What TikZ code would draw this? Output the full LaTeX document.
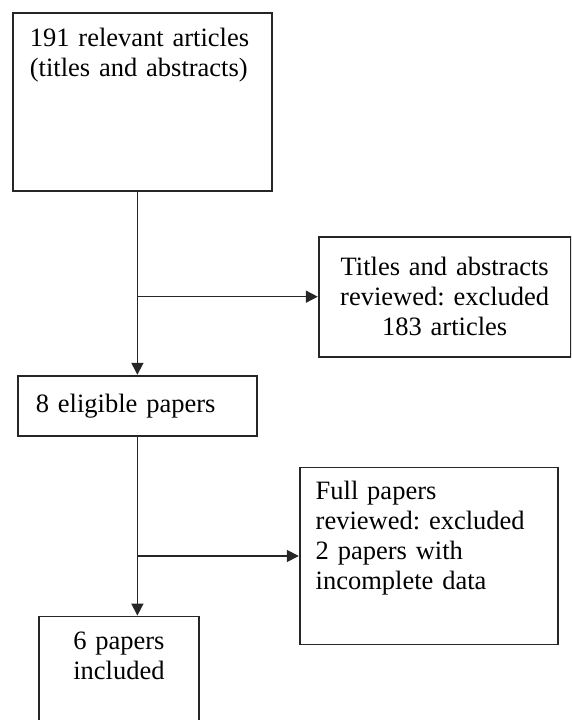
\documentclass[tikz,border=0pt]{standalone}
\usepackage{fontspec}
\setmainfont{Liberation Serif}
\usepackage{tikz}
\usetikzlibrary{arrows.meta,positioning}
\frenchspacing

\begin{document}
\begin{tikzpicture}[
  x=1pt,y=1pt,
  stage/.style={draw=black!85,line width=1.8pt,fill=white,align=left,
    font=\fontsize{26.5pt}{30pt}\selectfont},
  excl/.style={draw=black!85,line width=1.8pt,fill=white,
    font=\fontsize{26.5pt}{30pt}\selectfont},
  arrow/.style={-{Triangle[length=12pt,width=12pt]},line width=1.6pt,draw=black!85}
]
\useasboundingbox (0,0) rectangle (571,720);
\clip (0,0) rectangle (571,720);
\node[stage,anchor=north west,text width=225pt,inner xsep=17pt,inner ysep=16pt,
  text height=18pt,text depth=128pt] (records) at (12,708)
  {191 relevant articles\\(titles and abstracts)};
\node[stage,below right=183pt and 5pt of records.south west,text width=203pt,
  inner xsep=18pt,minimum height=60pt] (eligible) {8 eligible papers};
\node[excl,below right=44pt and 45pt of records.south east,align=center,
  text width=220pt,inner xsep=16pt,minimum height=120pt] (screened)
  {Titles and abstracts\\reviewed: excluded\\183 articles};
\node[excl,below right=30pt and 41pt of eligible.south east,align=left,
  text width=226pt,inner xsep=16pt,inner ysep=14pt,text height=18pt,text depth=131pt] (fulltext)
  {Full papers\\reviewed: excluded\\2 papers with\\incomplete data};
\node[stage,below right=179pt and 21pt of eligible.south west,align=center,
  text width=140pt,inner xsep=10pt,inner ysep=15pt,text height=18pt,text depth=100pt] (included)
  {6 papers\\included};
\draw[arrow] (eligible.north |- records.south)--(eligible.north);
\draw[arrow] (eligible.north |- screened.west)--(screened.west);
\draw[arrow] (eligible.south)--(eligible.south |- included.north);
\draw[arrow] (eligible.south |- fulltext.west)--(fulltext.west);
\end{tikzpicture}
\end{document}
